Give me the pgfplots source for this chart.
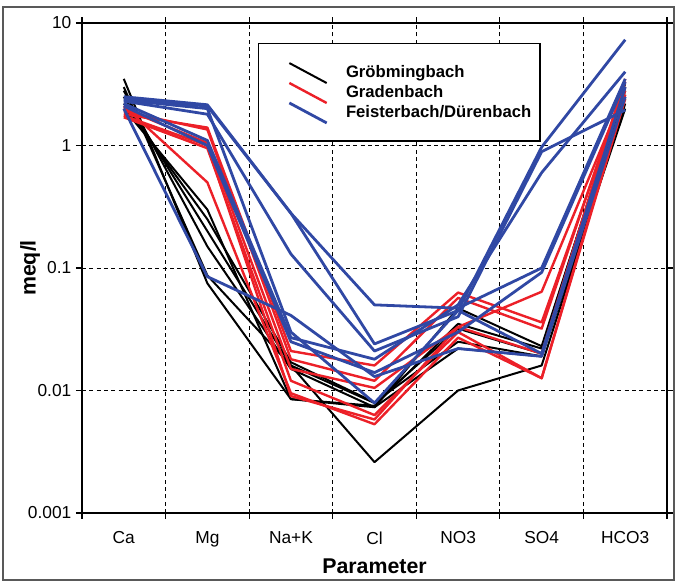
\documentclass[border=0pt]{standalone}
\usepackage{fontspec}
\setmainfont{Liberation Sans}
\usepackage{pgfplots}
\pgfplotsset{compat=1.18}
\definecolor{grob}{RGB}{0,0,0}
\definecolor{grad}{RGB}{236,32,40}
\definecolor{feist}{RGB}{48,72,164}

\begin{document}
\begin{tikzpicture}
\begin{axis}[
    name=ax,
    scale only axis,
    width=438.75pt, height=367.5pt,
    xmin=-0.5, xmax=6.5,
    ymode=log, ymin=0.001, ymax=10,
    xtick={0,...,6},
    xticklabels={Ca,Mg,Na+K,Cl,NO3,SO4,HCO3},
    minor xtick={-0.5,0.5,...,6.5},
    ytick={0.001,0.01,0.1,1,10},
    yticklabels={0.001,0.01,0.1,1,10},
    yminorticks=false,
    xminorgrids=true, ymajorgrids=true,
    grid style={black, line width=0.7pt, dash pattern=on 3pt off 2.5pt},
    minor grid style={black, line width=0.7pt, dash pattern=on 3pt off 2.5pt},
    major x tick style={draw=none},
    tick align=outside,
    minor tick length=4.5pt, major tick length=4.5pt,
    tick style={black, line width=0.8pt},
    axis line style={line width=1.1pt},
    ticklabel style={font=\fontsize{13}{15}\selectfont},
    xticklabel style={yshift=-6pt},
    /pgf/number format/assume math mode=true,
    xlabel={\bfseries Parameter},
    ylabel={\bfseries meq/l},
    label style={font=\fontsize{16}{18}\selectfont},
    xlabel style={yshift=-2pt},
    ylabel style={yshift=-16pt},
    legend cell align=left,
    legend image code/.code={
        \draw[#1,overlay] (18pt,7pt) -- (46pt,-8pt);
        \path[draw=none,fill=none] (0pt,-4pt) rectangle (46pt,4pt);
    },
    legend style={at={(0.3009,0.959)}, anchor=north west,
        draw=black, line width=1pt,
        font=\bfseries\fontsize{12.5}{14}\selectfont,
        inner xsep=5pt, inner ysep=14pt,
        row sep=0pt,
        nodes={inner xsep=1.5pt, inner ysep=2.2pt},
        /tikz/every odd column/.append style={column sep=13pt}},
    clip=false,
    every axis plot/.append style={line join=round},
]
\addlegendimage{grob, line width=1.5pt}
\addlegendentry{Gröbmingbach}
\addlegendimage{grad, line width=1.8pt}
\addlegendentry{Gradenbach}
\addlegendimage{feist, line width=2.1pt}
\addlegendentry{Feisterbach/Dürenbach}

% Gröbmingbach
\addplot[grob, line width=1.5pt, forget plot] coordinates {(0,3.5) (1,0.075) (2,0.0085) (3,0.0073) (4,0.022) (5,0.019) (6,2.0)};
\addplot[grob, line width=1.5pt, forget plot] coordinates {(0,3.0) (1,0.087) (2,0.016) (3,0.0026) (4,0.010) (5,0.016) (6,2.2)};
\addplot[grob, line width=1.5pt, forget plot] coordinates {(0,2.8) (1,0.15) (2,0.015) (3,0.0073) (4,0.047) (5,0.023) (6,3.0)};
\addplot[grob, line width=1.5pt, forget plot] coordinates {(0,2.5) (1,0.20) (2,0.016) (3,0.0079) (4,0.032) (5,0.020) (6,2.8)};
\addplot[grob, line width=1.5pt, forget plot] coordinates {(0,2.2) (1,0.25) (2,0.017) (3,0.0080) (4,0.025) (5,0.019) (6,2.6)};
\addplot[grob, line width=1.5pt, forget plot] coordinates {(0,2.0) (1,0.30) (2,0.0085) (3,0.0075) (4,0.035) (5,0.022) (6,3.2)};

% Gradenbach
\addplot[grad, line width=1.8pt, forget plot] coordinates {(0,1.8) (1,1.4) (2,0.021) (3,0.016) (4,0.063) (5,0.036) (6,3.0)};
\addplot[grad, line width=1.8pt, forget plot] coordinates {(0,1.9) (1,1.35) (2,0.018) (3,0.012) (4,0.057) (5,0.032) (6,3.3)};
\addplot[grad, line width=1.8pt, forget plot] coordinates {(0,2.0) (1,1.05) (2,0.015) (3,0.0105) (4,0.033) (5,0.064) (6,2.8)};
\addplot[grad, line width=1.8pt, forget plot] coordinates {(0,1.7) (1,0.95) (2,0.012) (3,0.0063) (4,0.030) (5,0.0126) (6,2.6)};
\addplot[grad, line width=1.8pt, forget plot] coordinates {(0,2.1) (1,0.50) (2,0.0095) (3,0.0053) (4,0.027) (5,0.0126) (6,2.4)};
\addplot[grad, line width=1.8pt, forget plot] coordinates {(0,1.75) (1,1.0) (2,0.009) (3,0.0058) (4,0.033) (5,0.020) (6,3.5)};

% Feisterbach/Dürenbach
\addplot[feist, line width=2.1pt, forget plot] coordinates {(0,2.5) (1,2.15) (2,0.28) (3,0.050) (4,0.047) (5,0.10) (6,3.5)};
\addplot[feist, line width=2.1pt, forget plot] coordinates {(0,2.4) (1,2.1) (2,0.28) (3,0.024) (4,0.045) (5,0.97) (6,7.3)};
\addplot[feist, line width=2.1pt, forget plot] coordinates {(0,2.3) (1,1.8) (2,0.13) (3,0.021) (4,0.040) (5,0.89) (6,1.95)};
\addplot[feist, line width=2.1pt, forget plot] coordinates {(0,2.2) (1,1.1) (2,0.027) (3,0.018) (4,0.050) (5,0.60) (6,4.0)};
\addplot[feist, line width=2.1pt, forget plot] coordinates {(0,2.1) (1,1.0) (2,0.025) (3,0.014) (4,0.030) (5,0.092) (6,3.3)};
\addplot[feist, line width=2.1pt, forget plot] coordinates {(0,2.0) (1,0.085) (2,0.041) (3,0.013) (4,0.022) (5,0.019) (6,2.5)};
\addplot[feist, line width=2.1pt, forget plot] coordinates {(0,2.35) (1,2.0) (2,0.030) (3,0.0079) (4,0.045) (5,0.020) (6,3.0)};
\end{axis}
\draw[black!65, line width=0.8pt] ([xshift=-59.25pt,yshift=-50.25pt]ax.south west) rectangle ([xshift=5.25pt,yshift=12pt]ax.north east);
\pgfresetboundingbox
\path[use as bounding box] ([xshift=-61.5pt,yshift=-54pt]ax.south west) rectangle ([xshift=7.5pt,yshift=17.25pt]ax.north east);
\end{tikzpicture}
\end{document}
